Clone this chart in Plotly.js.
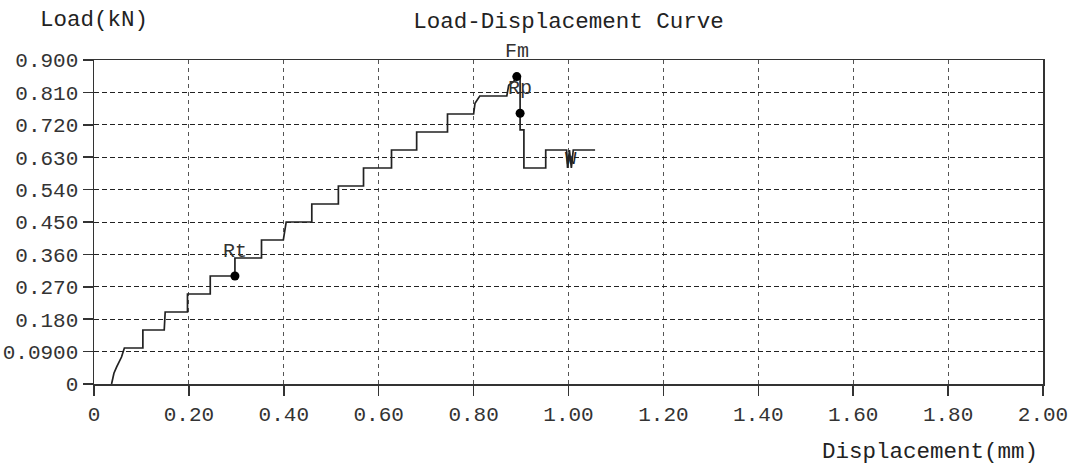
<!DOCTYPE html>
<html>
<head>
<meta charset="utf-8">
<script src="https://cdn.plot.ly/plotly-3.0.1.min.js"></script>
<style>html,body{margin:0;padding:0;background:#fff;}#chart{width:1078px;height:465px;}</style>
</head>
<body>
<div id="chart"></div>
<script>
// Curve vertices
const disp = [0.037, 0.042, 0.048, 0.052, 0.058, 0.064, 0.103, 0.103, 0.148, 0.150, 0.197, 0.197, 0.245, 0.245, 0.297, 0.297, 0.353, 0.353, 0.399, 0.405, 0.459, 0.459, 0.515, 0.515, 0.568, 0.568, 0.627, 0.627, 0.680, 0.680, 0.745, 0.745, 0.800, 0.803, 0.813, 0.870, 0.874, 0.884, 0.891, 0.898, 0.898, 0.906, 0.906, 0.952, 0.952, 0.996, 0.998, 1.002, 1.006, 1.010, 1.056];
const load = [0.000, 0.030, 0.048, 0.060, 0.075, 0.100, 0.100, 0.150, 0.150, 0.200, 0.200, 0.250, 0.250, 0.300, 0.300, 0.350, 0.350, 0.400, 0.400, 0.450, 0.450, 0.500, 0.500, 0.550, 0.550, 0.600, 0.600, 0.650, 0.650, 0.700, 0.700, 0.750, 0.750, 0.780, 0.800, 0.800, 0.830, 0.840, 0.854, 0.850, 0.706, 0.706, 0.600, 0.600, 0.650, 0.650, 0.600, 0.650, 0.600, 0.650, 0.650];

// Marked points
const markNames = ["Rt", "Fm", "Rp"];
const markDisp = [0.297, 0.891, 0.898];
const markLoad = [0.300, 0.854, 0.752];

// Extra label near the end of the curve
const endLabel = "W";
const endLabelDisp = 1.005;
const endLabelLoad = 0.625;

// Tick labels
const xTickVals = [0, 0.2, 0.4, 0.6, 0.8, 1.0, 1.2, 1.4, 1.6, 1.8, 2.0];
const xTickText = ["0", "0.20", "0.40", "0.60", "0.80", "1.00", "1.20", "1.40", "1.60", "1.80", "2.00"];
const yTickVals = [0, 0.09, 0.18, 0.27, 0.36, 0.45, 0.54, 0.63, 0.72, 0.81, 0.90];
const yTickText = ["0", "0.0900", "0.180", "0.270", "0.360", "0.450", "0.540", "0.630", "0.720", "0.810", "0.900"];

const FONT = "Liberation Mono, DejaVu Sans Mono, monospace";

const traces = [
  {
    x: disp, y: load, type: "scatter", mode: "lines",
    line: {color: "#222", width: 1.7, shape: "linear"},
    hoverinfo: "skip"
  },
  {
    x: markDisp, y: markLoad, type: "scatter", mode: "markers",
    marker: {color: "#000", size: 9, symbol: "circle"},
    hoverinfo: "skip"
  }
];

const annotations = markNames.map((n, i) => ({
  x: markDisp[i], y: markLoad[i], xref: "x", yref: "y",
  text: n, showarrow: false, yshift: 25,
  font: {family: FONT, size: 20, color: "#333"}
}));
annotations.push({
  x: endLabelDisp, y: endLabelLoad, xref: "x", yref: "y",
  text: endLabel, showarrow: false,
  font: {family: FONT, size: 19, color: "#222"}
});
annotations.push({
  x: -0.059, y: 1.123, xref: "paper", yref: "paper",
  xanchor: "left", yanchor: "middle",
  text: "Load(kN)", showarrow: false,
  font: {family: FONT, size: 22.5, color: "#222"}
});
annotations.push({
  x: 0.997, y: -0.21, xref: "paper", yref: "paper",
  xanchor: "right", yanchor: "middle",
  text: "Displacement(mm)", showarrow: false,
  font: {family: FONT, size: 22.5, color: "#222"}
});

const layout = {
  width: 1078, height: 465,
  margin: {l: 94, r: 35, t: 60, b: 81, pad: 0},
  paper_bgcolor: "#fff", plot_bgcolor: "#fff",
  showlegend: false,
  title: {
    text: "Load-Displacement Curve",
    x: 0.5, xref: "paper", xanchor: "center",
    y: 1 - 20 / 465, yref: "container", yanchor: "middle",
    font: {family: FONT, size: 22.5, color: "#222"}
  },
  xaxis: {
    range: [0, 2], autorange: false, fixedrange: true,
    tickmode: "array", tickvals: xTickVals, ticktext: xTickText,
    ticks: "outside", ticklen: 10, tickcolor: "#333", tickwidth: 1.5,
    showline: true, linecolor: "#333", linewidth: 1.5, mirror: true,
    showgrid: true, gridcolor: "#555", gridwidth: 1, griddash: "4px,4px",
    zeroline: false,
    tickfont: {family: FONT, size: 21, color: "#333"}
  },
  yaxis: {
    range: [0, 0.9], autorange: false, fixedrange: true,
    tickmode: "array", tickvals: yTickVals, ticktext: yTickText,
    ticks: "outside", ticklen: 10, tickcolor: "#333", tickwidth: 1.5,
    showline: true, linecolor: "#333", linewidth: 1.5, mirror: true,
    showgrid: true, gridcolor: "#222", gridwidth: 1, griddash: "5px,3px",
    zeroline: false,
    tickfont: {family: FONT, size: 21, color: "#333"}
  },
  annotations: annotations
};

Plotly.newPlot("chart", traces, layout, {displayModeBar: false, staticPlot: true});
</script>
</body>
</html>
